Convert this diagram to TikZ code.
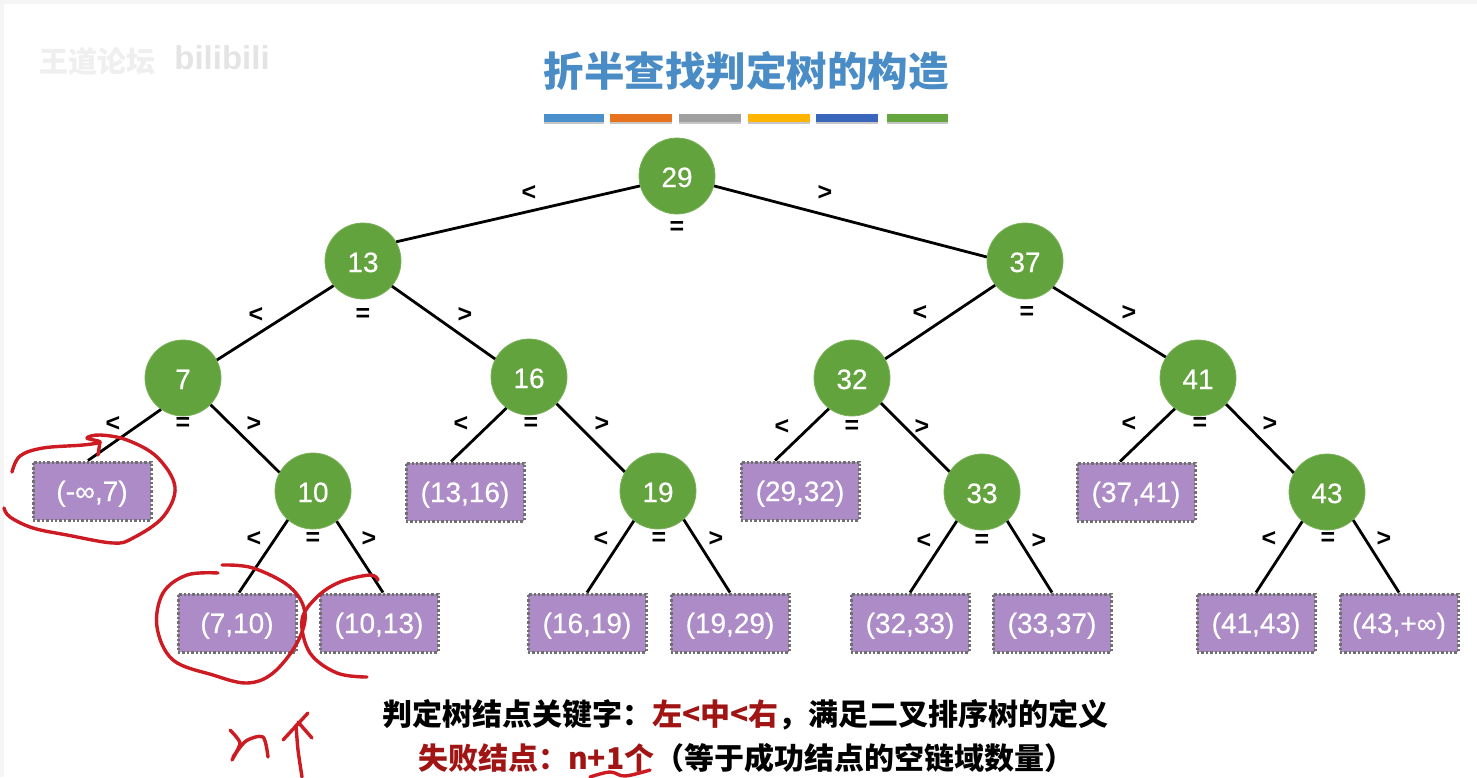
\documentclass[tikz,border=0pt]{standalone}
\usepackage{fontspec}
\setmainfont{Liberation Sans}
\newfontfamily\cjk{Noto Sans CJK SC}
\newfontfamily\midsans[FakeBold=0.35]{Liberation Sans}
\definecolor{treegreen}{HTML}{63A33D}
\definecolor{failpurple}{HTML}{AC8BC6}
\definecolor{dotgray}{HTML}{707070}
\definecolor{titleblue}{HTML}{4A8CC6}
\definecolor{inkred}{HTML}{CC1B22}
\definecolor{darkred}{HTML}{A01414}
\definecolor{wmgray}{HTML}{EFEFEF}
\tikzset{
  x=1pt,y=-1pt,
  okbox/.style={circle,fill=treegreen,draw=treegreen!85!white,line width=.8pt,minimum size=76pt,inner sep=0pt,text=white,text height=22pt,text depth=0pt,font=\midsans\fontsize{28}{28}\selectfont},
  failbox/.style={rectangle,fill=failpurple,draw=dotgray,dash pattern=on 2.4pt off 2pt,line width=3pt,minimum width=118pt,minimum height=58pt,inner sep=0pt,text=white,text height=26pt,text depth=6pt,font=\midsans\fontsize{28}{28}\selectfont},
  branch/.style={draw=black,line width=2.8pt},
  rel/.style={inner sep=0pt,text=black,font=\bfseries\fontsize{25}{25}\selectfont},
  rule/.style={line width=7.5pt,line cap=butt},
  ink/.style={draw=inkred,line width=3.4pt,line cap=round,line join=round},
  caption/.style={inner sep=0pt,anchor=west,font=\cjk\bfseries\fontsize{30}{30}\selectfont},
}
\begin{document}
\begin{tikzpicture}
\useasboundingbox (0,0) rectangle (1477,777);
\fill[gray!8] (0,0) rectangle (1477,777);
\fill[white] (4,4) rectangle (1477,777);
% watermark
\node[inner sep=0pt,text=wmgray,font=\cjk\bfseries\fontsize{29}{29}\selectfont] (wmA) at (97,62) {王道论坛};
\node[inner sep=0pt,text=wmgray!90!gray,font=\bfseries\fontsize{33}{33}\selectfont] (wmB) at (222,58) {bilibili};
% title
\node[inner sep=0pt,text=titleblue,font=\cjk\bfseries\fontsize{40.5}{41}\selectfont] (title) at (746,71) {折半查找判定树的构造};
\foreach \a/\b/\c in {544/604/4A90CC,610/672/E8731F,679/741/A0A0A0,748/810/FFB400,816/878/3A66BC,887/948/66A63F}{
  \definecolor{barc}{HTML}{\c}
  \draw[rule,gray!45] (\a,120) -- (\b,120);
  \draw[rule,barc] (\a,118) -- (\b,118);
}
% success nodes
\node[okbox] (n29) at (677,176) {29};
\node[okbox] (n13) at (363,261) {13};
\node[okbox] (n37) at (1025,261) {37};
\node[okbox] (n7) at (183,378) {7};
\node[okbox] (n16) at (529,377) {16};
\node[okbox] (n32) at (852,378) {32};
\node[okbox] (n41) at (1198,378) {41};
\node[okbox] (n10) at (313,491) {10};
\node[okbox] (n19) at (658,491) {19};
\node[okbox] (n33) at (982,492) {33};
\node[okbox] (n43) at (1327,492) {43};
% failure nodes
\node[failbox] (fa) at (92,491) {(-∞,7)};
\node[failbox] (fb) at (237,623) {(7,10)};
\node[failbox] (fc) at (379,623) {(10,13)};
\node[failbox] (fd) at (465,492) {(13,16)};
\node[failbox] (fe) at (587,623) {(16,19)};
\node[failbox] (ff) at (730,623) {(19,29)};
\node[failbox] (fg) at (800,491) {(29,32)};
\node[failbox] (fh) at (910,623) {(32,33)};
\node[failbox] (fi) at (1052,623) {(33,37)};
\node[failbox] (fj) at (1136,492) {(37,41)};
\node[failbox] (fk) at (1256,623) {(41,43)};
\node[failbox] (fl) at (1399,623) {(43,+∞)};
% connectors
\path[branch]
  (n29.195)--(n13.30) (n29.345)--(n37.174)
  (n13.220)--(n7.28) (n13.319)--(n16.152)
  (n37.219)--(n32.30) (n37.317)--(n41.147)
  (n7.235)--([xshift=-4pt]fa.north) (n7.316)--(n10.151)
  (n16.234)--([xshift=-14pt]fd.north) (n16.316)--(n19.150)
  (n32.233)--([xshift=-25pt]fg.north) (n32.319)--(n33.148)
  (n41.233)--([xshift=-16pt]fj.north) (n41.317)--(n43.150)
  (n10.229)--([xshift=2pt]fb.north) (n10.308)--([xshift=4pt]fc.north)
  (n19.231)--(fe.north) (n19.312)--(ff.north)
  (n33.229)--(fh.north) (n33.311)--(fi.north)
  (n43.230)--(fk.north) (n43.313)--(fl.north);
% relation labels
\foreach \i/\px/\py/\t in {
 a1/529/193/<, a2/825/193/>, a3/677/228/=,
 b1/256/315/<, b2/465/315/>, b3/363/315/=,
 c1/920/313/<, c2/1129/313/>, c3/1027/313/=,
 d1/113/424/<, d2/254/424/>, d3/183/424/=,
 e1/461/424/<, e2/602/424/>, e3/531/424/=,
 f1/782/427/<, f2/922/427/>, f3/852/427/=,
 g1/1129/424/<, g2/1270/424/>, g3/1200/424/=,
 h1/254/539/<, h2/369/539/>, h3/313/539/=,
 i1/601/539/<, i2/716/539/>, i3/659/539/=,
 j1/924/541/<, j2/1039/541/>, j3/982/541/=,
 k1/1269/539/<, k2/1384/539/>, k3/1328/539/=}{
  \node[rel] (lab\i) at (\px,\py) {\t};
}
% captions
\node[caption] (capA) at (382,715) {判定树结点关键字：\textcolor{darkred}{左<中<右}，满足二叉排序树的定义};
\node[caption] (capB) at (418,758) {\textcolor{darkred}{失败结点：n+1个}（等于成功结点的空链域数量）};
% handwriting
\draw[ink] plot[smooth,tension=.6] coordinates {(12,472) (20,456) (43,448) (83,445) (100,442) (87,438) (100,435) (127,440) (157,457) (175,487) (163,517) (133,538) (113,543) (67,535) (33,528) (10,517) (4,508)};
\draw[ink] (100,442) -- (98,455);
\draw[ink] plot[smooth,tension=.6] coordinates {(218,573) (187,575) (163,593) (157,627) (173,660) (213,675) (247,683) (273,673) (297,643) (305,613) (290,587) (253,568) (222,565)};
\draw[ink] plot[smooth,tension=.6] coordinates {(378,580) (370,575) (340,582) (317,597) (302,620) (310,653) (337,673) (367,677)};
\draw[ink] plot[smooth,tension=.4] coordinates {(230,730) (240,743) (232,760)};
\draw[ink] plot[smooth,tension=.5] coordinates {(233,757) (246,741) (263,737) (268,757)};
\draw[ink] (283,740) -- (308,713);
\draw[ink] plot[smooth,tension=.4] coordinates {(296,725) (298,750) (302,777)};
\draw[ink] (298,722) -- (312,738);
\draw[ink] plot[smooth,tension=.6] coordinates {(590,777) (610,772) (625,776) (650,770)};
\end{tikzpicture}
\end{document}
